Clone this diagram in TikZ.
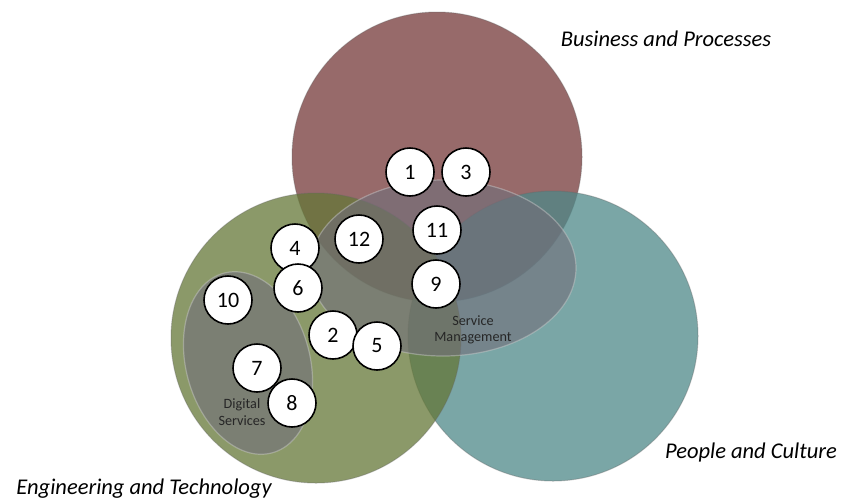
\documentclass[tikz,border=0pt]{standalone}
\usepackage{fontspec}
\setmainfont{Carlito}
\usetikzlibrary{shapes.geometric}
\definecolor{redc}{RGB}{116,56,56}
\definecolor{greenc}{RGB}{100,119,55}
\definecolor{tealc}{RGB}{78,136,136}
\definecolor{grayc}{RGB}{113,110,122}
\tikzset{
  bigc/.style={circle, minimum size=290pt, inner sep=0pt, fill opacity=0.75,
    draw=black!60, draw opacity=0.35, line width=1pt},
  ovalc/.style={ellipse, inner sep=0pt, fill=grayc, fill opacity=0.6,
    draw=white!60!gray, draw opacity=0.45, line width=1.2pt},
  num/.style={circle, draw=black, line width=1.6pt, fill=white, minimum size=48pt,
    inner sep=0pt, font=\fontsize{22}{26}\selectfont},
  biglabel/.style={font=\fontsize{22.5}{27}\selectfont\itshape, inner sep=0pt},
  smalllabel/.style={font=\fontsize{14.2}{16.5}\selectfont, align=center, inner sep=0pt, text=black!85}
}
\begin{document}
\begin{tikzpicture}[x=1pt,y=-1pt]
\useasboundingbox (0,0) rectangle (842,499);
\node[bigc, fill=redc] (bp) at (437,157) {};
\node[bigc, fill=tealc] (pc) at (553,336) {};
\node[bigc, fill=greenc] (et) at (316,338) {};
\node[ovalc, minimum width=266pt, minimum height=176pt] (sm) at (443,268) {};
\node[ovalc, minimum width=124pt, minimum height=186pt, rotate=15] (ds) at (248,363) {};
\node[smalllabel] (smt) at (473,330) {Service\\Management};
\node[smalllabel] (dst) at (242,412) {Digital\\Services};
\node[num] (n1) at (410,172) {1};
\node[num] (n3) at (466,172) {3};
\node[num] (n11) at (437,230) {11};
\node[num] (n12) at (359,239) {12};
\node[num] (n4) at (295,248) {4};
\node[num] (n6) at (298,288) {6};
\node[num] (n9) at (436,284) {9};
\node[num] (n10) at (228,300) {10};
\node[num] (n2) at (333,335) {2};
\node[num] (n5) at (377,346) {5};
\node[num] (n7) at (257,368) {7};
\node[num] (n8) at (292,403) {8};
\node[biglabel] (lbp) at (666,39) {Business and Processes};
\node[biglabel] (lpc) at (751,452) {People and Culture};
\node[biglabel] (let) at (144,489) {Engineering and Technology};
\end{tikzpicture}
\end{document}
